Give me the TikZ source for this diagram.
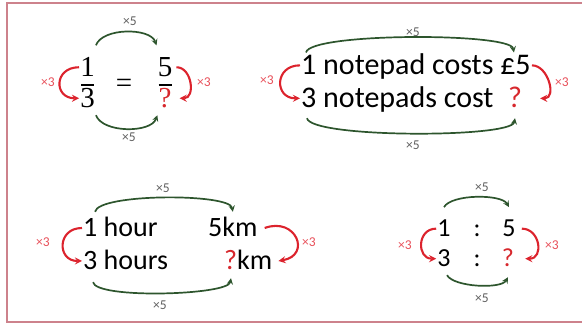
\documentclass[tikz,border=0pt]{standalone}
\usepackage{fontspec}
\newfontfamily\calib{Carlito}
\newfontfamily\fracfont{Liberation Serif}
\usetikzlibrary{arrows, shapes, positioning}

\definecolor{arcgreen}{RGB}{45,85,45}
\definecolor{arcred}{RGB}{220,35,45}
\definecolor{qred}{RGB}{215,40,45}
\definecolor{lblred}{RGB}{232,80,90}
\definecolor{lblgray}{RGB}{95,95,95}
\definecolor{framepink}{RGB}{205,130,140}

\begin{document}
\begin{tikzpicture}[x=1pt, y=1pt,
    frac/.style={font=\fracfont\fontsize{29}{32}\selectfont, inner sep=1pt, anchor=base, text height=19.5pt, text depth=0pt},
    txt/.style={font=\calib\fontsize{30}{32}\selectfont, inner sep=1pt, text height=19.3pt, text depth=0pt},
    txtm/.style={font=\calib\fontsize{28}{30}\selectfont, inner sep=1pt, text height=18pt, text depth=0pt},
    txts/.style={font=\calib\fontsize{26}{28}\selectfont, inner sep=1pt, anchor=base, text height=16.7pt, text depth=0pt},
    fivelbl/.style={font=\calib\fontsize{13.5}{15}\selectfont, text=lblgray, inner sep=1pt},
    threelbl/.style={font=\calib\fontsize{13.5}{15}\selectfont, text=lblred, inner sep=1pt},
    garc/.style={draw=arcgreen, line width=1.7pt, -stealth},
    rarc/.style={draw=arcred, line width=2.1pt, -stealth},
    bar/.style={line width=1.6pt},
    frame/.style={draw=framepink, line width=2pt}]

  \useasboundingbox (0,0) rectangle (582,326);

  % Frame
  \draw[frame] (582,322.7) -- (6.5,322.7) -- (6.5,4) -- (582,4);

  % Fractions
  \node[frac] (n1) at (87.5,249) {1};
  \node[frac] (d1) at (87.5,218) {3};
  \node[frac] (eq) at (124,233.5) {=};
  \node[frac] (n2) at (165,249) {5};
  \node[frac, text=qred] (d2) at (165,218) {?};
  \draw[bar] (81,241) -- (94,241);
  \draw[bar] (158.5,241) -- (171.5,241);

  \node[fivelbl] (f1t) at (130,305) {×5};
  \node[fivelbl] (f1b) at (129,189) {×5};
  \node[threelbl] (f1l) at (48,244) {×3};
  \node[threelbl] (f1r) at (204,244) {×3};

  \draw[garc] ([yshift=11pt]n1.north east) to[out=70, in=110, looseness=0.8] ([yshift=11pt]n2.north west);
  \draw[garc] ([yshift=-6pt]d1.south east) to[out=-70, in=-110, looseness=0.8] ([yshift=-6pt]d2.south west);
  \draw[rarc] (n1.west) to[out=180, in=180, looseness=2.1] (d1.west);
  \draw[rarc] ([xshift=3pt]n2.east) to[out=0, in=0, looseness=1.3] ([xshift=7pt]d2.east);

  % Notepads
  \node[txt, anchor=base west] (np1) at (300,251) {1 notepad costs £5};
  \node[txt, anchor=base west] (np3) at (300,218) {3 notepads cost};
  \node[txt, anchor=base, text=qred] (npq) at (515,218) {?};

  \node[fivelbl] (f2t) at (413,294) {×5};
  \node[fivelbl] (f2b) at (413,181) {×5};
  \node[threelbl] (f2l) at (267,246) {×3};
  \node[threelbl] (f2r) at (562,244) {×3};

  \draw[garc] ([shift={(6pt,2pt)}]np1.north west) to[out=80, in=100, looseness=0.25] ([shift={(-18pt,2pt)}]np1.north east);
  \draw[garc] ([shift={(7pt,-9pt)}]np3.south west) to[out=-80, in=-100, looseness=0.25] ([yshift=-9pt]npq.south);
  \draw[rarc] (np1.west) to[out=180, in=180, looseness=2] (np3.west);
  \draw[rarc] (np1.east) to[out=0, in=0, looseness=1.25] ([xshift=17pt]npq.east);

  % Hours
  \node[txtm, anchor=base west] (h1) at (82,89) {1 hour};
  \node[txtm, anchor=base west] (h3) at (82,56) {3 hours};
  \node[txtm, anchor=base west] (k5) at (207,89) {5km};
  \node[txtm, anchor=base west] (kq) at (223,56) {\textcolor{qred}{?}km};

  \node[fivelbl] (f3t) at (163,138) {×5};
  \node[fivelbl] (f3b) at (160,21) {×5};
  \node[threelbl] (f3l) at (43,84) {×3};
  \node[threelbl] (f3r) at (309,84) {×3};

  \draw[garc] ([shift={(13pt,6pt)}]h1.north west) to[out=80, in=100, looseness=0.35] ([yshift=6pt]k5.north);
  \draw[garc] ([shift={(11pt,-11pt)}]h3.south west) to[out=-80, in=-100, looseness=0.32] ([shift={(8pt,-7pt)}]kq.south west);
  \draw[rarc] (h1.west) to[out=180, in=180, looseness=1.95] (h3.west);
  \draw[rarc] ([xshift=6pt]k5.east) to[out=20, in=10, looseness=2.4] ([xshift=5pt]kq.east);

  % Ratio
  \node[txts] (r1) at (444,89) {1};
  \node[txts] (c1) at (477,89) {:};
  \node[txts] (r5) at (509,89) {5};
  \node[txts] (r3) at (444,59) {3};
  \node[txts] (c3) at (477,59) {:};
  \node[txts, text=qred] (rq) at (508,59) {?};

  \node[fivelbl] (f4t) at (482,139) {×5};
  \node[fivelbl] (f4b) at (482,28) {×5};
  \node[threelbl] (f4l) at (405,81) {×3};
  \node[threelbl] (f4r) at (552,81) {×3};

  \draw[garc] ([yshift=12pt]r1.north) to[out=60, in=120, looseness=0.6] ([yshift=12pt]r5.north);
  \draw[garc] ([shift={(3pt,-7pt)}]r3.south) to[out=-60, in=-120, looseness=0.58] ([yshift=-9pt]rq.south);
  \draw[rarc] (r1.west) to[out=180, in=180, looseness=1.66] (r3.west);
  \draw[rarc] ([xshift=5pt]r5.east) to[out=0, in=0, looseness=1.58] ([xshift=10pt]rq.east);

\end{tikzpicture}
\end{document}
